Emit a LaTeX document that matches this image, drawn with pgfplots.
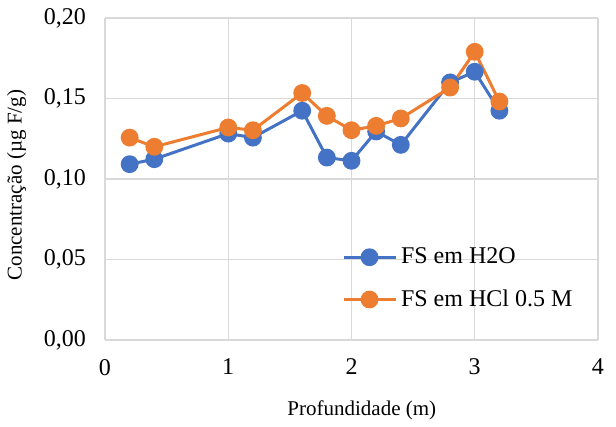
\documentclass[border=0pt]{standalone}
\usepackage{fontspec}
\setmainfont{Liberation Serif}
\usepackage{pgfplots}
\pgfplotsset{compat=1.18}
\definecolor{cblue}{HTML}{4472C4}
\definecolor{corange}{HTML}{ED7D31}
\definecolor{cgrid}{HTML}{D9D9D9}
\begin{document}
\begin{tikzpicture}
\path[use as bounding box] (0,0) rectangle (308pt,213.5pt);
\begin{axis}[
  at={(52.5pt,43.5pt)}, anchor=south west,
  scale only axis, width=246.5pt, height=161pt,
  xmin=0, xmax=4, ymin=0, ymax=0.2,
  xtick={0,1,2,3,4}, ytick={0,0.05,0.1,0.15,0.2},
  major tick length=0pt,
  grid=major, grid style={cgrid, line width=0.6pt},
  axis line style={draw=none},
  tick label style={font=\fontsize{12}{14}\selectfont},
  xticklabel style={yshift=-6pt},
  yticklabel style={xshift=-6pt},
  yticklabel style={/pgf/number format/.cd, use comma, fixed, fixed zerofill, precision=2},
  /pgf/number format/assume math mode=true,
  xlabel={Profundidade (m)}, ylabel={Concentração (µg F/g)},
  label style={font=\fontsize{10.5}{12}\selectfont},
  xlabel style={at={(ticklabel cs:0.521)}, yshift=-6pt},
  ylabel style={at={(ticklabel cs:0.481)}, yshift=2pt},
  clip=false,
  legend style={at={(0.48,0.30)}, anchor=north west, draw=none, fill=none,
    font=\fontsize{12}{14}\selectfont, row sep=7.5pt, inner sep=0pt,
    /tikz/every even column/.append style={column sep=2pt}},
  legend cell align=left,
  legend image code/.code={
    \draw[#1, mark=none] (0pt,0pt) -- (26pt,0pt);
    \draw[#1, only marks] plot coordinates {(13pt,0pt)};
  },
]
\addplot[cblue, line width=1.5pt, mark=*, mark size=3.7pt, mark options={solid, fill=cblue, draw=cblue}] coordinates {
(0.2,0.1092) (0.4,0.1123) (1.0,0.1282) (1.2,0.1257) (1.6,0.1424) (1.8,0.1133)
(2.0,0.1113) (2.2,0.1295) (2.4,0.1212) (2.8,0.1600) (3.0,0.1666) (3.2,0.1424)
};
\addlegendentry{FS em H2O}
\addplot[corange, line width=1.5pt, mark=*, mark size=3.7pt, mark options={solid, fill=corange, draw=corange}] coordinates {
(0.2,0.1257) (0.4,0.1200) (1.0,0.1320) (1.2,0.1303) (1.6,0.1534) (1.8,0.1392)
(2.0,0.1303) (2.2,0.1330) (2.4,0.1376) (2.8,0.1568) (3.0,0.1790) (3.2,0.1481)
};
\addlegendentry{FS em HCl 0.5 M}
\end{axis}
\end{tikzpicture}
\end{document}
